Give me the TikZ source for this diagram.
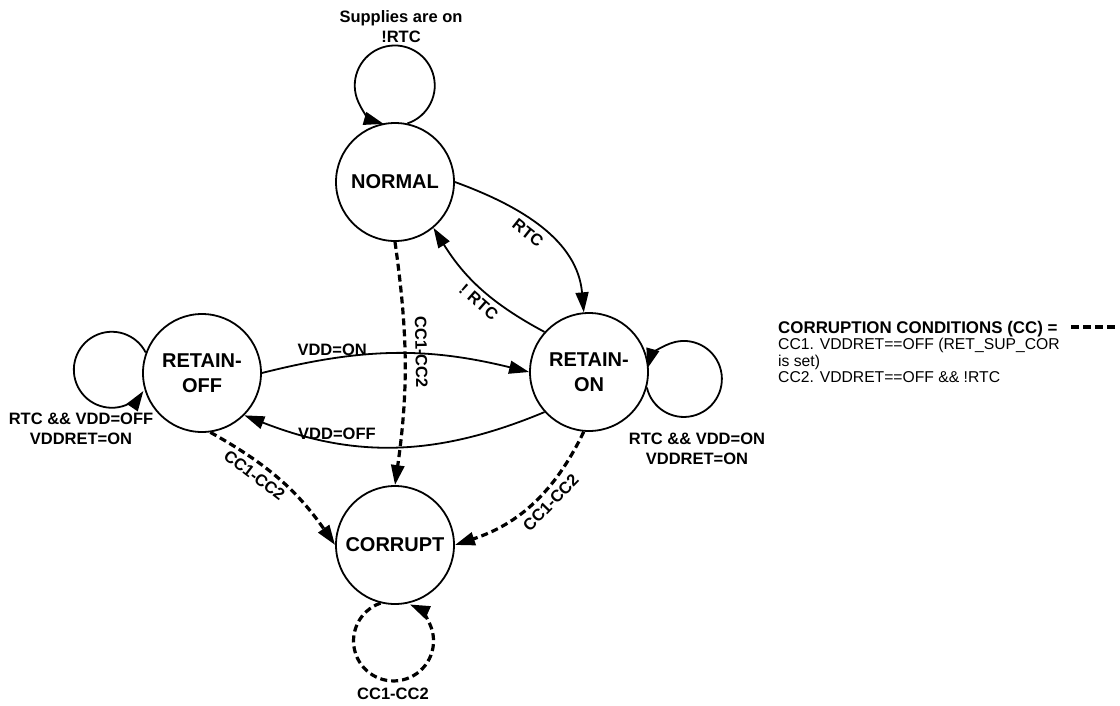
\documentclass[tikz,border=0pt]{standalone}
\usepackage{fontspec}
\setmainfont{Liberation Sans}
\usetikzlibrary{arrows.meta, positioning}

\begin{document}
\begin{tikzpicture}[
        x=1pt,
        y=1pt,
        on grid,
        state/.style={
            circle,
            draw,
            line width=1.8pt,
            minimum size=118pt,
            inner sep=0pt,
            align=center,
            font=\fontsize{20}{25}\selectfont\bfseries
        },
        lbl/.style={
            font=\fontsize{16.5}{20}\selectfont\bfseries,
            inner sep=2pt
        },
        cclbl/.style={
            lbl,
            inner sep=5pt
        },
        note/.style={
            lbl,
            align=center
        },
        legend/.style={
            font=\fontsize{15.7}{16.5}\selectfont,
            align=left,
            inner sep=0pt
        },
        line/.style={
            draw,
            line width=1.8pt,
            -{Triangle[length=20pt, width=13pt]}
        },
        cc/.style={
            line,
            line width=3.2pt,
            dash pattern=on 7pt off 4pt
        },
        ccline/.style={
            draw,
            line width=3.2pt,
            dash pattern=on 8pt off 4pt
        }
    ]
        \useasboundingbox (0,0) rectangle (1120,-705);

        % Nodes
        \node [state] (normal) at (395,-182) {NORMAL};
        \node [state, below right=190pt and 194pt of normal] (retainon) {RETAIN-\\ON};
        \node [state, below left=191pt and 193pt of normal] (retainoff) {RETAIN-\\OFF};
        \node [state, below=363pt of normal] (corrupt) {CORRUPT};

        \node [note] (normalnote) at (401,-27) {Supplies are on\\!RTC};
        \node [note] (offnote) at (81,-429) {RTC \&\& VDD=OFF\\VDDRET=ON};
        \node [note] (onnote) at (697,-449) {RTC \&\& VDD=ON\\VDDRET=ON};
        \node [lbl] (corruptnote) at (393,-694) {CC1-CC2};

        % Legend
        \node [legend, anchor=north west] (cclegend) at (778,-321) {{\fontsize{16.9}{16.5}\selectfont\bfseries CORRUPTION CONDITIONS (CC) =}\\CC1. VDDRET==OFF (RET\_SUP\_COR\\is set)\\CC2. VDDRET==OFF \&\& !RTC};
        \coordinate (keystart) at (1071,-327);
        \coordinate (keyend) at (1118,-327);
        \path [ccline] (keystart) -- (keyend);

        % Paths
        \path [line] (normal.east) to [out=-20, in=95] node [cclbl, sloped, below, pos=0.45] {RTC} (retainon.95);
        \path [line] (retainon.138) to [bend left=15] node [cclbl, sloped, below, pos=0.45] {! RTC} (normal.-50);
        \path [line] (retainoff.east) to [bend left=14] node [lbl, above, pos=0.25] {VDD=ON} (retainon.west);
        \path [line] (retainon.222) to [bend left=22] node [lbl, above, pos=0.7] {VDD=OFF} (retainoff.-45);

        \path [cc] (normal.south) to [bend left=8] node [cclbl, sloped, above=4pt, pos=0.45] {CC1-CC2} (corrupt.north);
        \path [cc] (retainoff.-82) to [bend left=13] node [cclbl, sloped, below, pos=0.35] {CC1-CC2} (corrupt.west);
        \path [cc] (retainon.-95) to [bend left=23] node [cclbl, sloped, below, pos=0.42] {CC1-CC2} (corrupt.east);

        % Self loops
        \path [line] (normal.78) arc [start angle=-71.5, end angle=254, radius=40];
        \path [line] (retainoff.160) arc [start angle=27, end angle=326, radius=38];
        \path [line] (retainon.-15) arc [start angle=193, end angle=524, radius=38];
        \path [cc] (corrupt.256) arc [start angle=109, end angle=426, radius=40];

    \end{tikzpicture}
\end{document}
